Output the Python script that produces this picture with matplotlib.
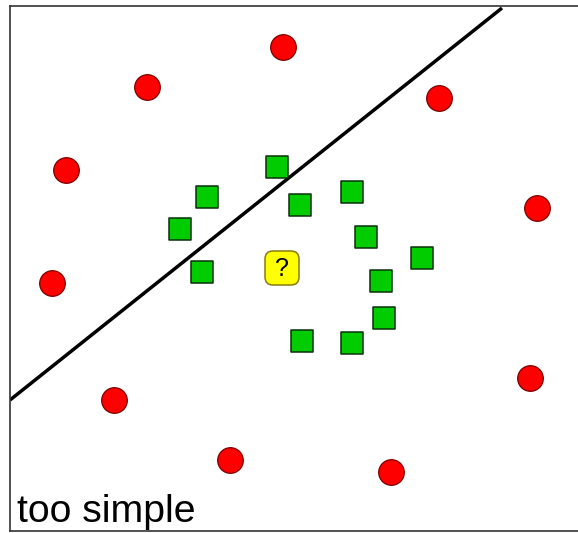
import numpy as np
import matplotlib
matplotlib.use('Agg')
import matplotlib.pyplot as plt
from matplotlib.patches import FancyBboxPatch

# Positions of the samples (pixel-like units, y downward)
red_x = [283, 147, 439, 66, 537, 52, 114, 530, 230, 391]
red_y = [47, 87, 98, 170, 208, 283, 400, 378, 460, 472]

green_x = [277, 207, 180, 300, 352, 366, 422, 202, 381, 384, 302, 352]
green_y = [167, 197, 229, 205, 192, 237, 258, 272, 281, 318, 341, 343]

# the unknown point
query_x = 282
query_y = 268

# the linear decision boundary
line_x = [10, 502]
line_y = [400, 8]

W, H = 578, 533
fig = plt.figure(figsize=(W / 100, H / 100), dpi=100)
ax = fig.add_axes([10 / W, (H - 531) / H, (W - 10) / W, (531 - 6) / H])
ax.set_xlim(10, W)
ax.set_ylim(531, 6)

ax.plot(line_x, line_y, color='black', lw=2.5, solid_capstyle='butt', zorder=2)

ax.scatter(red_x, red_y, s=340, marker='o', facecolor='#ff0000',
           edgecolor='#7a0000', linewidth=0.9, zorder=3)
ax.scatter(green_x, green_y, s=240, marker='s', facecolor='#00cc00',
           edgecolor='#0a300a', linewidth=1.1, zorder=3)

box = FancyBboxPatch((query_x - 13, query_y - 13), 26, 26,
                     boxstyle='round,pad=4,rounding_size=8',
                     facecolor='#ffff00', edgecolor='#8a7a10', lw=1.1, zorder=4)
ax.add_patch(box)
ax.text(query_x, query_y + 1, '?', ha='center', va='center', fontsize=18,
        family='Liberation Sans', color='black', zorder=5)

ax.text(17, 522, 'too simple', ha='left', va='baseline', fontsize=28.3,
        family='Liberation Sans', color='black')

ax.set_xticks([])
ax.set_yticks([])
for side in ['left', 'top', 'bottom']:
    ax.spines[side].set_color('#333333')
    ax.spines[side].set_linewidth(1.2)
ax.spines['right'].set_visible(False)

fig.savefig('out.png', dpi=100)
